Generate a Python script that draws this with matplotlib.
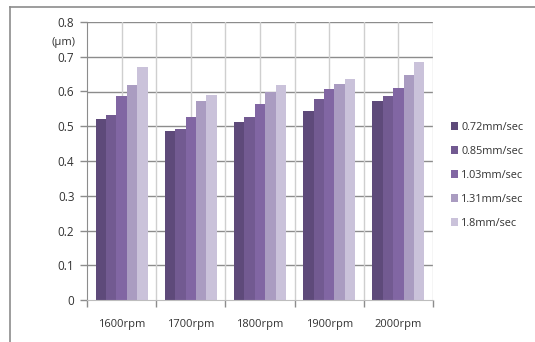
import numpy as np
import matplotlib.pyplot as plt
from matplotlib.lines import Line2D
from matplotlib.patches import Patch

plt.rcParams['font.family'] = ['Open Sans', 'DejaVu Sans']

# spindle speeds and feed rates
speeds = ['1600rpm', '1700rpm', '1800rpm', '1900rpm', '2000rpm']
feeds = ['0.72mm/sec', '0.85mm/sec', '1.03mm/sec', '1.31mm/sec', '1.8mm/sec']

# roughness (um) per feed rate, one value per speed
feed_072 = [0.520, 0.485, 0.511, 0.544, 0.573]
feed_085 = [0.531, 0.491, 0.528, 0.578, 0.587]
feed_103 = [0.587, 0.528, 0.564, 0.607, 0.610]
feed_131 = [0.619, 0.573, 0.600, 0.622, 0.648]
feed_180 = [0.671, 0.590, 0.619, 0.636, 0.686]
series = [feed_072, feed_085, feed_103, feed_131, feed_180]

colors = ['#5e4a7a', '#725a91', '#8166a3', '#aa9cc1', '#cac2da']

fig = plt.figure(figsize=(5.35, 3.42), dpi=100)
ax = fig.add_axes([87 / 535, 42 / 342, 346 / 535, 278 / 342])

x = np.arange(len(speeds))
w = 0.15
for i, (vals, c) in enumerate(zip(series, colors)):
    ax.bar(x + (i - 2) * w, vals, width=w, color=c, edgecolor='none', zorder=3)

ax.set_xlim(-0.5, len(speeds) - 0.5)
ax.set_ylim(0, 0.8)
ax.set_yticks(np.arange(0, 0.81, 0.1))
ax.set_yticklabels(['0'] + [f'{v:.1f}' for v in np.arange(0.1, 0.81, 0.1)])

# horizontal grid darker, vertical grid at category centres and edges lighter
for y in np.arange(0.1, 0.81, 0.1):
    ax.axhline(y, color='#8c8c8c', lw=1, zorder=1)
for xv in np.arange(-0.5, len(speeds), 0.5)[1:]:
    ax.axvline(xv, color='#cfcfcf', lw=1, zorder=1)

ax.set_xticks(np.arange(-0.5, len(speeds), 1.0))
ax.set_xticklabels([])
ax.set_xticks(x, minor=True)
ax.set_xticklabels(speeds, minor=True)
ax.tick_params(axis='x', which='major', length=5, color='#8c8c8c', width=1)
ax.tick_params(axis='x', which='minor', length=0, pad=14, labelsize=8, labelcolor='#333333')
ax.tick_params(axis='y', length=5, color='#8c8c8c', width=1, labelsize=8.5,
               labelcolor='#333333', pad=4)

for s in ['top', 'right']:
    ax.spines[s].set_visible(False)
ax.spines['left'].set_color('#8c8c8c')
ax.spines['bottom'].set_color('#bdbdbd')
ax.spines['bottom'].set_zorder(4)

fig.text(63 / 535, 1 - 42 / 342, '(μm)', ha='center', va='center', fontsize=8,
         color='#333333')

handles = [Patch(facecolor=c, edgecolor='none') for c in colors]
fig.legend(handles, feeds, loc='center left', bbox_to_anchor=(441 / 535, 1 - 175 / 342),
           frameon=False, fontsize=7.8, handlelength=0.7, handleheight=0.7,
           handletextpad=0.25, labelspacing=1.2, labelcolor='#333333')

# outer chart border (top and left only)
fig.add_artist(Line2D([10 / 535, 10 / 535], [0, 1 - 7 / 342], color='#8c8c8c', lw=1.2))
fig.add_artist(Line2D([10 / 535, 1], [1 - 7 / 342, 1 - 7 / 342], color='#8c8c8c', lw=1.2))

fig.savefig('out.png', dpi=100, facecolor='white')
